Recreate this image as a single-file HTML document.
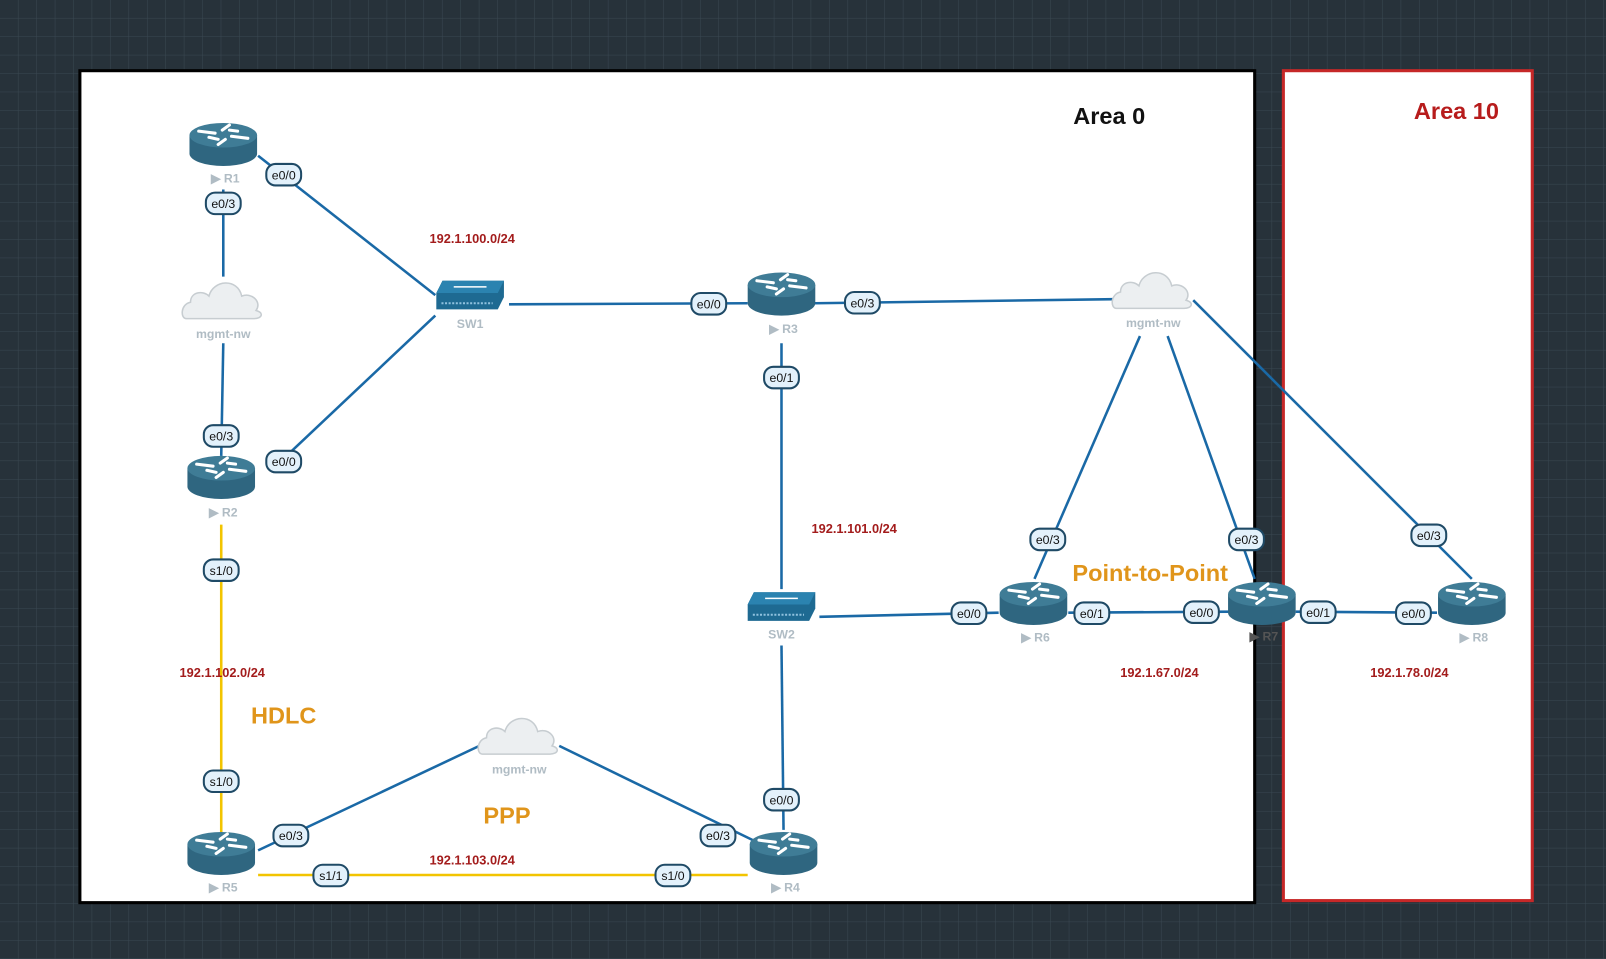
<!DOCTYPE html>
<html><head><meta charset="utf-8"><style>
html,body{margin:0;padding:0;width:1606px;height:959px;overflow:hidden;background:#27323a}
svg{display:block}
text{font-family:"Liberation Sans",Arial,sans-serif}
</style></head><body>
<svg width="1606" height="959" viewBox="0 0 1568 936" preserveAspectRatio="none" xmlns="http://www.w3.org/2000/svg">
<defs>
<pattern id="g" width="18" height="18" patternUnits="userSpaceOnUse">
<rect width="18" height="18" fill="#27323a"/>
<path d="M18 0V18M0 18H18" stroke="#3a4852" stroke-width="1"/>
</pattern>
<g id="rt">
<path d="M-33 -8 V10 A33 12 0 0 0 33 10 V-8 Z" fill="#2f6680"/>
<ellipse cx="0" cy="-8" rx="33" ry="12" fill="#3f7c96"/>
<g stroke="#fff" stroke-width="3" fill="none" stroke-linecap="round">
<path d="M-24 -12 L-8 -10"/><path d="M24 -5 L8 -7"/><path d="M6 -18 L-1 -13"/><path d="M-5 1 L2 -4"/>
<path d="M-14 -6 L-5 -4"/><path d="M14 -12 L6 -13"/>
</g>
</g>
<g id="sw">
<path d="M-33 -4 L-27 -16 L33 -16 L33 0 L27 12 L-33 12 Z" fill="#1e6a92"/>
<path d="M-33 -4 L-27 -16 L33 -16 L27 -4 Z" fill="#2b83b0"/>
<path d="M-16 -10 H16" stroke="#fff" stroke-width="1.5"/>
<path d="M-28 6 H22" stroke="#8fc1de" stroke-width="2" stroke-dasharray="2 1.5"/>
</g>
<g id="cl">
<path d="M-36 14 C-42 14 -42 0 -32 -2 C-32 -12 -20 -14 -14 -8 C-10 -24 14 -26 18 -8 C28 -12 38 -2 32 6 C40 8 38 14 30 14 Z" fill="#eceff1" stroke="#c7cdd1" stroke-width="1.5"/>
</g>
</defs>
<rect width="1568" height="936" fill="url(#g)"/>
<rect x="78" y="69" width="1147" height="812" fill="#fff" stroke="#000" stroke-width="3"/>
<rect x="1253" y="69" width="243" height="810" fill="#fff" stroke="#c62828" stroke-width="3"/>
<text x="1083" y="121" font-size="23" font-weight="bold" text-anchor="middle" fill="#111">Area 0</text>
<text x="1422" y="116" font-size="23" font-weight="bold" text-anchor="middle" fill="#b71c1c">Area 10</text>

<g stroke="#1a69a6" stroke-width="2.5" fill="none">
<path d="M252 152 L425 288"/><path d="M218 185 L218 270"/><path d="M218 335 L216 445"/>
<path d="M285 440 L425 308"/><path d="M497 297 L730 296"/><path d="M795 296 L1087 292"/>
<path d="M763 335 L763 575"/><path d="M800 602 L975 598"/><path d="M1043 598 L1200 597"/>
<path d="M1265 597 L1403 598"/><path d="M1113 328 L1010 565"/><path d="M1140 328 L1225 565"/>
<path d="M1165 293 L1437 565"/><path d="M763 630 L765 810"/><path d="M468 728 L252 830"/>
<path d="M546 728 L735 820"/>
</g>
<g stroke="#f2c400" stroke-width="2.5"><path d="M216 512 L216 812"/><path d="M252 854 L730 854"/></g>

<use href="#rt" x="218" y="140"/><use href="#rt" x="216" y="465"/><use href="#rt" x="763" y="286"/>
<use href="#rt" x="216" y="832"/><use href="#rt" x="765" y="832"/><use href="#rt" x="1009" y="588"/>
<use href="#rt" x="1232" y="588"/><use href="#rt" x="1437" y="588"/>
<use href="#sw" x="459" y="290"/><use href="#sw" x="763" y="594"/>
<use href="#cl" x="218" y="297"/><use href="#cl" x="1126" y="287"/><use href="#cl" x="507" y="722"/>

<g font-size="12" font-weight="bold" fill="#b0bcc4" text-anchor="middle">
<text x="220" y="178">▶ R1</text><text x="218" y="504">▶ R2</text><text x="765" y="325">▶ R3</text>
<text x="218" y="870">▶ R5</text><text x="767" y="870">▶ R4</text><text x="1011" y="626">▶ R6</text>
<text x="1234" y="625" fill="#555">▶ R7</text><text x="1439" y="626">▶ R8</text>
<text x="459" y="320">SW1</text><text x="763" y="623">SW2</text>
<text x="218" y="330">mgmt-nw</text><text x="1126" y="319">mgmt-nw</text><text x="507" y="755">mgmt-nw</text>
</g>

<g font-size="12" text-anchor="middle" fill="#111">
<g stroke="#1f4a66" stroke-width="2" fill="#e3f1fb">
<rect x="260" y="160" width="34" height="21" rx="9"/><rect x="201" y="188" width="34" height="21" rx="9"/>
<rect x="199" y="415" width="34" height="21" rx="9"/><rect x="260" y="440" width="34" height="21" rx="9"/>
<rect x="199" y="546" width="34" height="21" rx="9"/><rect x="199" y="752" width="34" height="21" rx="9"/>
<rect x="267" y="805" width="34" height="21" rx="9"/><rect x="306" y="844" width="34" height="21" rx="9"/>
<rect x="640" y="844" width="34" height="21" rx="9"/><rect x="684" y="805" width="34" height="21" rx="9"/>
<rect x="746" y="770" width="34" height="21" rx="9"/><rect x="675" y="286" width="34" height="21" rx="9"/>
<rect x="825" y="285" width="34" height="21" rx="9"/><rect x="746" y="358" width="34" height="21" rx="9"/>
<rect x="929" y="588" width="34" height="21" rx="9"/><rect x="1049" y="588" width="34" height="21" rx="9"/>
<rect x="1156" y="587" width="34" height="21" rx="9"/><rect x="1006" y="516" width="34" height="21" rx="9"/>
<rect x="1200" y="516" width="34" height="21" rx="9"/><rect x="1270" y="587" width="34" height="21" rx="9"/>
<rect x="1363" y="588" width="34" height="21" rx="9"/><rect x="1378" y="512" width="34" height="21" rx="9"/>
</g>
<text x="277" y="175">e0/0</text><text x="218" y="203">e0/3</text><text x="216" y="430">e0/3</text>
<text x="277" y="455">e0/0</text><text x="216" y="561">s1/0</text><text x="216" y="767">s1/0</text>
<text x="284" y="820">e0/3</text><text x="323" y="859">s1/1</text><text x="657" y="859">s1/0</text>
<text x="701" y="820">e0/3</text><text x="763" y="785">e0/0</text><text x="692" y="301">e0/0</text>
<text x="842" y="300">e0/3</text><text x="763" y="373">e0/1</text><text x="946" y="603">e0/0</text>
<text x="1066" y="603">e0/1</text><text x="1173" y="602">e0/0</text><text x="1023" y="531">e0/3</text>
<text x="1217" y="531">e0/3</text><text x="1287" y="602">e0/1</text><text x="1380" y="603">e0/0</text>
<text x="1395" y="527">e0/3</text>
</g>

<g font-size="12.5" font-weight="bold" fill="#a31c1c" text-anchor="middle">
<text x="461" y="237">192.1.100.0/24</text><text x="834" y="520">192.1.101.0/24</text>
<text x="217" y="661">192.1.102.0/24</text><text x="461" y="844">192.1.103.0/24</text>
<text x="1132" y="661">192.1.67.0/24</text><text x="1376" y="661">192.1.78.0/24</text>
</g>
<g font-size="23" font-weight="bold" fill="#e0951b" text-anchor="middle">
<text x="277" y="706">HDLC</text><text x="495" y="804">PPP</text><text x="1123" y="567">Point-to-Point</text>
</g>
</svg>
</body></html>
